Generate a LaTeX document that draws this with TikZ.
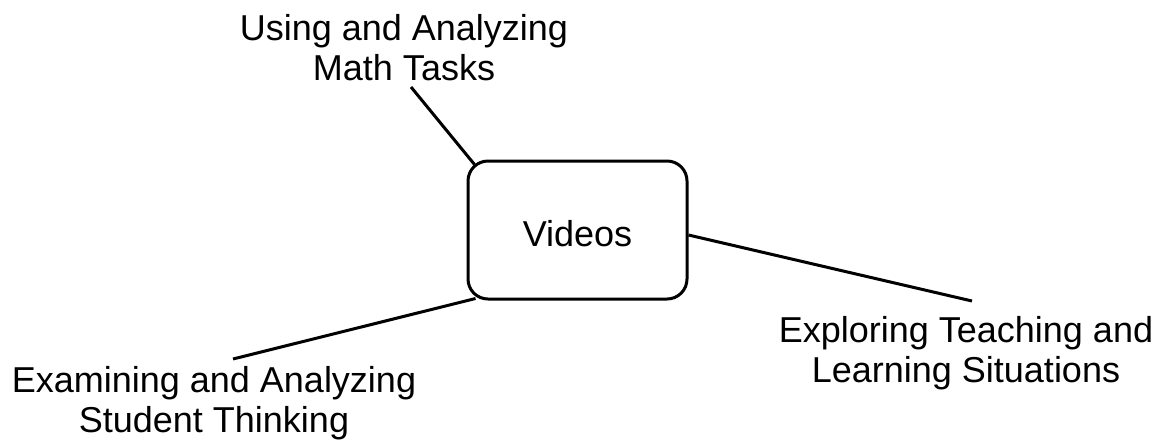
\documentclass[tikz,border=0pt]{standalone}
\usepackage{fontspec}
\setmainfont{Liberation Sans}
\usetikzlibrary{calc}
\begin{document}
\begin{tikzpicture}[x=0.5pt,y=-0.5pt,
  lbl/.style={align=center,anchor=base,inner sep=0pt,font=\fontsize{18pt}{20pt}\selectfont},
  conn/.style={line width=1.5pt},
  vbox/.style={draw,line width=1.5pt,fill=white,rounded corners=10pt,
    minimum width=109.5pt,minimum height=69pt,inner sep=0pt,
    text height=16pt,text depth=0pt,font=\fontsize{18pt}{20pt}\selectfont}]
\useasboundingbox (0,0) rectangle (1166,446);
\node[lbl] (tasks) at (404,80) {Using and Analyzing\\Math Tasks};
\node[lbl] (explore) at (966,382) {Exploring Teaching and\\Learning Situations};
\node[lbl] (student) at (214,432) {Examining and Analyzing\\Student Thinking};
\coordinate (a1) at (411,87);
\coordinate (a2) at (972,301);
\coordinate (a3) at (233,359);
\node[vbox] (v) at (577.5,230) {Videos};
\draw[conn] (a1) -- ($(v.north west)+(8,5)$);
\draw[conn] (a2) -- ($(v.east)+(0,5)$);
\draw[conn] (a3) -- ($(v.south west)+(9,-2)$);
\end{tikzpicture}
\end{document}
